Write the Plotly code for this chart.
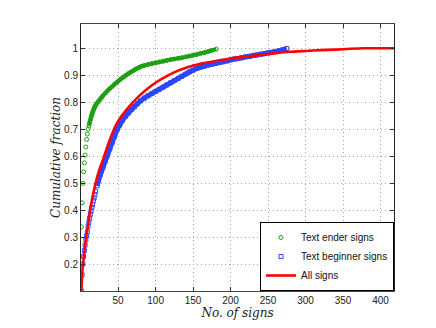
import plotly.graph_objects as go

# text ender signs (green circles)
ender_x = [1, 2, 3, 4, 5, 6, 7, 8, 9, 10, 11, 12, 13, 14, 15, 16, 17, 18, 19, 20,
           22, 24, 26, 28, 30, 33, 36, 39, 42, 45, 48, 51, 54, 57, 60, 63, 66, 69, 72, 75,
           78, 81, 85, 90, 95, 100, 105, 110, 115, 120, 125, 130, 135, 140, 145, 150,
           155, 160, 165, 170, 175, 181]
ender_y = [0.338, 0.427, 0.499, 0.542, 0.575, 0.604, 0.634, 0.662, 0.682, 0.700,
           0.712, 0.724, 0.735, 0.745, 0.754, 0.762, 0.770, 0.777, 0.783, 0.789,
           0.797, 0.804, 0.811, 0.818, 0.825, 0.834, 0.843, 0.851, 0.858, 0.866,
           0.873, 0.880, 0.887, 0.893, 0.899, 0.905, 0.910, 0.915, 0.920, 0.925,
           0.929, 0.933, 0.936, 0.940, 0.943, 0.946, 0.949, 0.952, 0.955, 0.958,
           0.960, 0.963, 0.965, 0.968, 0.971, 0.974, 0.977, 0.981, 0.984, 0.988,
           0.992, 0.997]

# text beginner signs (blue squares)
begin_x = [1, 2, 3, 4, 5, 6, 7, 8, 9, 10, 11, 12, 13, 14, 15, 16, 17, 18, 19, 20,
           22, 24, 26, 28, 30, 33, 36, 39, 42, 45, 49, 52, 56, 60, 64, 68, 72, 76, 80,
           85, 90, 95, 100, 105, 110, 115, 120, 125, 130, 135, 140, 145, 150, 155, 160,
           165, 170, 175, 180, 185, 190, 195, 200, 205, 210, 215, 220, 225, 230, 235,
           240, 245, 250, 255, 260, 265, 270, 275]
begin_y = [0.100, 0.160, 0.200, 0.228, 0.250, 0.270, 0.290, 0.305, 0.320, 0.340,
           0.355, 0.370, 0.385, 0.397, 0.410, 0.420, 0.435, 0.445, 0.457, 0.470,
           0.490, 0.510, 0.530, 0.545, 0.560, 0.583, 0.604, 0.628, 0.650, 0.672,
           0.700, 0.715, 0.733, 0.748, 0.761, 0.773, 0.784, 0.795, 0.805,
           0.815, 0.824, 0.832, 0.840, 0.848, 0.856, 0.864, 0.872, 0.880, 0.888,
           0.896, 0.904, 0.912, 0.919, 0.925, 0.930, 0.934, 0.938, 0.941, 0.944,
           0.947, 0.950, 0.953, 0.957, 0.960, 0.962, 0.965, 0.968, 0.970, 0.973,
           0.975, 0.978, 0.980, 0.983, 0.985, 0.988, 0.991, 0.995, 0.999]

# all signs (red line)
all_x = [1, 2, 3, 4, 5, 6, 7, 8, 10, 12, 15, 20, 25, 30, 35, 40, 45, 50, 60, 70, 80,
         90, 100, 110, 120, 130, 140, 150, 160, 180, 200, 220, 240, 260, 280, 300,
         320, 340, 360, 377, 420]
all_y = [0.100, 0.160, 0.195, 0.222, 0.245, 0.268, 0.290, 0.310, 0.345, 0.385,
         0.435, 0.500, 0.550, 0.588, 0.630, 0.668, 0.702, 0.730, 0.768, 0.800,
         0.828, 0.852, 0.872, 0.889, 0.904, 0.917, 0.927, 0.936, 0.943, 0.953,
         0.962, 0.969, 0.975, 0.982, 0.987, 0.990, 0.993, 0.995, 0.998, 1.0, 1.0]

x_ticks = [50, 100, 150, 200, 250, 300, 350, 400]
y_ticks = [0.2, 0.3, 0.4, 0.5, 0.6, 0.7, 0.8, 0.9, 1]
y_labels = ['0.2', '0.3', '0.4', '0.5', '0.6', '0.7', '0.8', '0.9', '1']

GREEN = 'rgb(30,160,20)'
BLUE = 'rgb(45,70,255)'
RED = 'rgb(255,0,0)'

fig = go.Figure()

# dense marker bands (the original has one marker per sign, so they merge)
fig.add_trace(go.Scatter(x=ender_x[10:], y=ender_y[10:], mode='lines', showlegend=False,
    hoverinfo='skip', line=dict(color=GREEN, width=4, shape='spline', smoothing=0.5)))
fig.add_trace(go.Scatter(x=begin_x[20:], y=begin_y[20:], mode='lines', showlegend=False,
    hoverinfo='skip', line=dict(color=BLUE, width=5, shape='spline', smoothing=0.5)))

fig.add_trace(go.Scatter(x=ender_x, y=ender_y, mode='markers', name='Text ender signs',
    marker=dict(symbol='circle-open', size=4, color=GREEN, line=dict(width=1))))
fig.add_trace(go.Scatter(x=begin_x, y=begin_y, mode='markers', name='Text beginner signs',
    marker=dict(symbol='square-open', size=4, color=BLUE, line=dict(width=1))))
fig.add_trace(go.Scatter(x=all_x, y=all_y, mode='lines', name='All signs',
    line=dict(color=RED, width=2.6, shape='spline', smoothing=0.6)))

axis_font = dict(family='Liberation Sans, Arial', size=10, color='#222')
title_font = dict(family='DejaVu Serif', size=12, color='#222')
grid = dict(showgrid=True, gridcolor='#a8a8a8', griddash='1px,3px', gridwidth=1)

# the page body has an 8px margin on left/top, so shift the figure by that much
fig.update_layout(
    width=428, height=320,
    margin=dict(l=73, r=42, t=16, b=37),
    plot_bgcolor='white', paper_bgcolor='white',
    showlegend=True,
    legend=dict(x=1, y=0, xanchor='right', yanchor='bottom',
                bgcolor='white', bordercolor='black', borderwidth=1,
                font=dict(family='Liberation Sans, Arial', size=10, color='#111'),
                tracegroupgap=0, itemwidth=30),
    xaxis=dict(range=[0.5, 418], tickvals=x_ticks, ticks='inside', ticklen=4,
               tickcolor='#333', showline=True, linecolor='#444', mirror='ticks',
               zeroline=False, tickfont=axis_font, automargin=False, **grid,
               title=dict(text='<i>No. of signs</i>', font=title_font, standoff=2)),
    yaxis=dict(range=[0.1, 1.09], tickvals=y_ticks, ticktext=y_labels, ticks='inside',
               ticklen=4, tickcolor='#333', showline=True, linecolor='#222', mirror='ticks',
               zeroline=False, tickfont=axis_font, automargin=False, **grid,
               title=dict(text='<i>Cumulative fraction</i>', font=title_font, standoff=0)),
)

fig.write_html("out.html")
